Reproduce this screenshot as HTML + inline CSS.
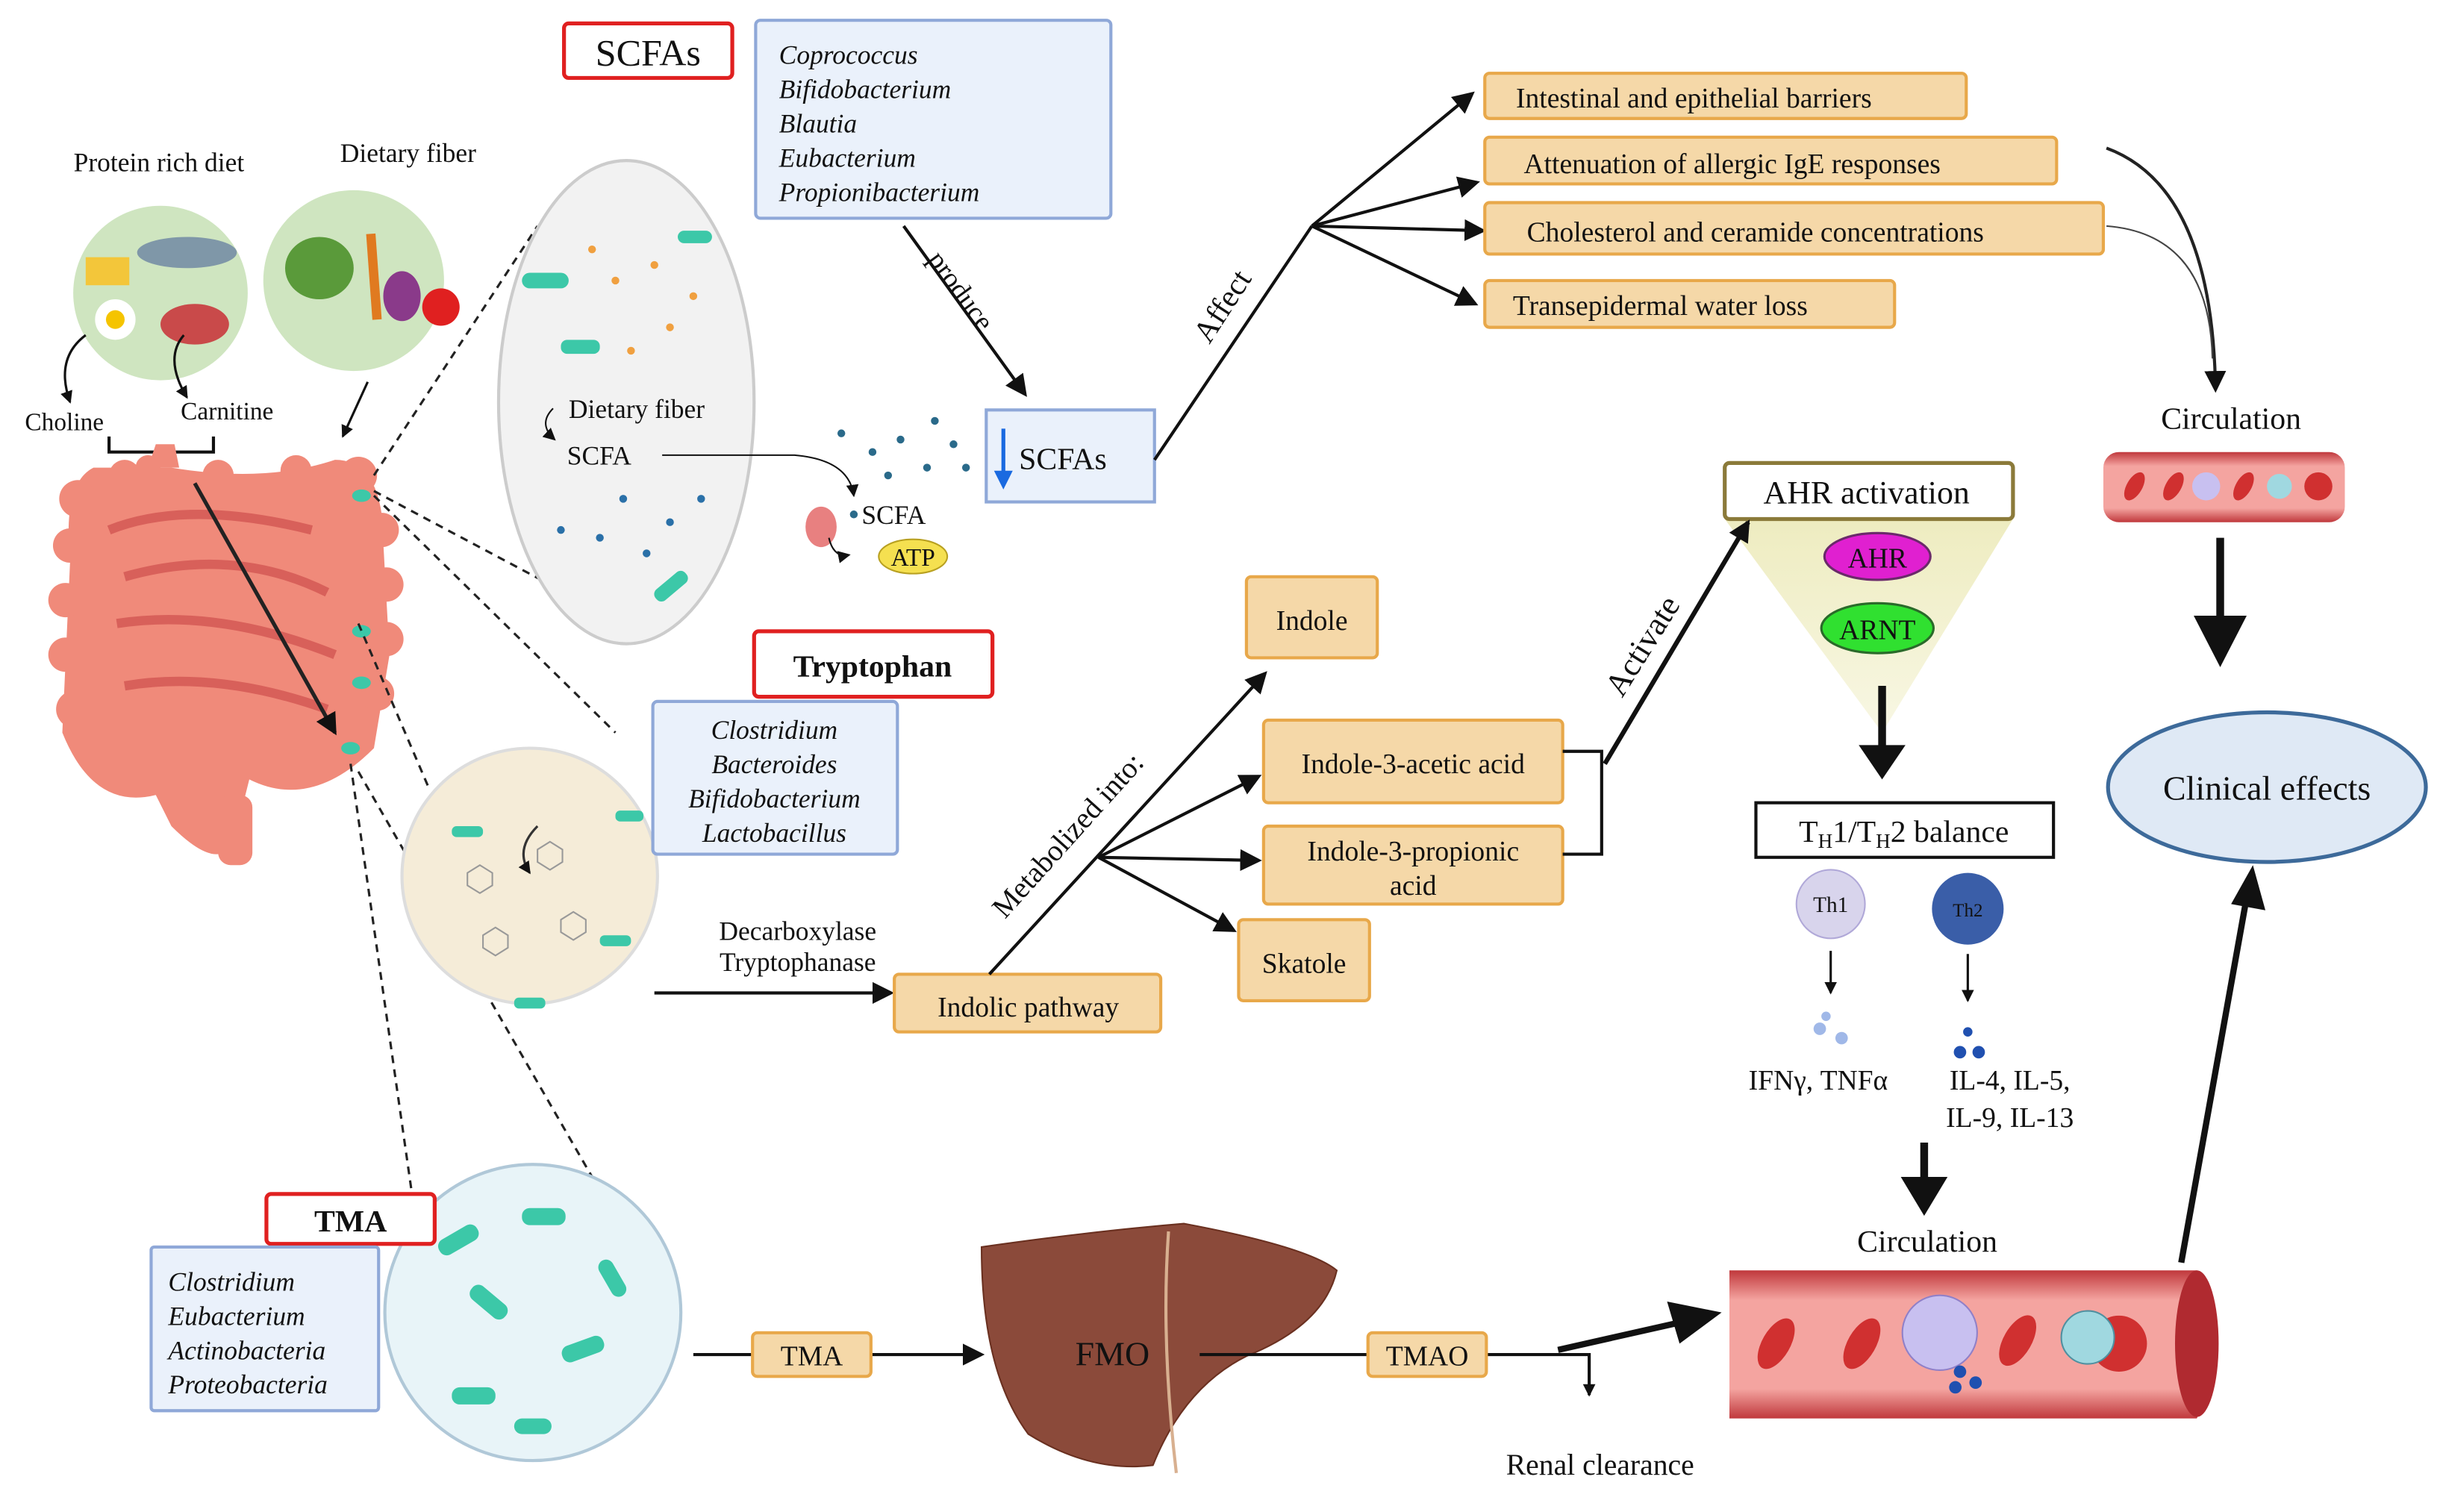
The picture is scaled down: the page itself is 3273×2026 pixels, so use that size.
<!DOCTYPE html>
<html><head><meta charset="utf-8"><style>
html,body{margin:0;padding:0;background:#fff;width:3273px;height:2026px;overflow:hidden}
svg{display:block}
text{font-family:"Liberation Serif",serif;fill:#111}
.it{font-style:italic}
</style></head><body>
<svg width="3273" height="2026" viewBox="0 0 1568 970" preserveAspectRatio="none" xmlns="http://www.w3.org/2000/svg">
<defs>
<marker id="ah" markerWidth="8" markerHeight="8" refX="7" refY="4" orient="auto" markerUnits="userSpaceOnUse"><path d="M0,0 L8,4 L0,8 z" fill="#111"/></marker>
<marker id="ahb" markerWidth="14" markerHeight="14" refX="12" refY="7" orient="auto" markerUnits="userSpaceOnUse"><path d="M0,0 L14,7 L0,14 z" fill="#111"/></marker>
<linearGradient id="tri" x1="0" y1="0" x2="0" y2="1"><stop offset="0" stop-color="#eeecc0"/><stop offset="1" stop-color="#f8f7e4"/></linearGradient>
<linearGradient id="ves" x1="0" y1="0" x2="0" y2="1"><stop offset="0" stop-color="#c0383c"/><stop offset=".2" stop-color="#f4a4a0"/><stop offset=".8" stop-color="#f4a4a0"/><stop offset="1" stop-color="#c0383c"/></linearGradient>
</defs>

<!-- food circles -->
<text x="102" y="110" font-size="17" text-anchor="middle">Protein rich diet</text>
<text x="262" y="104" font-size="17" text-anchor="middle">Dietary fiber</text>
<circle cx="103" cy="188" r="56" fill="#cfe5c0"/>
<circle cx="227" cy="180" r="58" fill="#cfe5c0"/>
<rect x="55" y="165" width="28" height="18" fill="#f3c63a"/>
<ellipse cx="120" cy="162" rx="32" ry="10" fill="#7f97a8"/>
<circle cx="74" cy="205" r="13" fill="#fff"/><circle cx="74" cy="205" r="6" fill="#f5c400"/>
<ellipse cx="125" cy="208" rx="22" ry="13" fill="#c94a4a"/>
<ellipse cx="205" cy="172" rx="22" ry="20" fill="#5a9a3a"/>
<path d="M238 150 L242 205" stroke="#e07a20" stroke-width="6"/>
<ellipse cx="258" cy="190" rx="12" ry="16" fill="#8a3a8a"/>
<circle cx="283" cy="197" r="12" fill="#e02020"/>
<path d="M55 215 Q35 230 45 258" fill="none" stroke="#111" stroke-width="1.5" marker-end="url(#ah)"/>
<path d="M118 215 Q105 230 120 255" fill="none" stroke="#111" stroke-width="1.5" marker-end="url(#ah)"/>
<text x="16" y="276" font-size="16">Choline</text>
<text x="116" y="269" font-size="16">Carnitine</text>
<path d="M70 280 L70 290 L137 290 L137 280" fill="none" stroke="#111" stroke-width="2"/>
<path d="M236 245 L220 280" stroke="#111" stroke-width="1.5" marker-end="url(#ah)"/>

<!-- intestine -->
<path d="M60 300 Q40 310 45 360 L40 470 Q60 520 100 510 L110 530 Q140 560 150 540 L160 500 Q200 520 240 480 L250 420 L245 330 Q240 295 215 295 Q170 310 110 300 Z" fill="#f08a7a"/>
<g fill="#f08a7a"><circle cx="50" cy="320" r="12"/><circle cx="45" cy="350" r="11"/><circle cx="42" cy="385" r="11"/><circle cx="42" cy="420" r="11"/><circle cx="48" cy="455" r="12"/><circle cx="245" cy="340" r="11"/><circle cx="248" cy="375" r="11"/><circle cx="248" cy="410" r="11"/><circle cx="242" cy="445" r="11"/><circle cx="230" cy="305" r="12"/><circle cx="80" cy="305" r="10"/><circle cx="140" cy="305" r="10"/><circle cx="190" cy="302" r="10"/><circle cx="95" cy="300" r="8"/></g>
<path d="M95 300 L100 285 L112 285 L115 300" fill="#f08a7a"/>
<path d="M70 340 Q120 320 200 340 M80 370 Q150 350 210 380 M75 400 Q140 390 215 420 M80 440 Q140 430 210 455" fill="none" stroke="#d8605a" stroke-width="6"/>
<rect x="140" y="510" width="22" height="45" rx="8" fill="#f08a7a"/>
<path d="M125 310 L215 470" stroke="#222" stroke-width="2.5" marker-end="url(#ahb)"/>
<ellipse cx="232" cy="318" rx="6" ry="4" fill="#3cc8a8"/><ellipse cx="232" cy="405" rx="6" ry="4" fill="#3cc8a8"/><ellipse cx="232" cy="438" rx="6" ry="4" fill="#3cc8a8"/><ellipse cx="225" cy="480" rx="6" ry="4" fill="#3cc8a8"/>

<!-- dashed connectors -->
<g stroke="#222" stroke-width="1.5" stroke-dasharray="5,4" fill="none">
<path d="M240 305 L345 145"/><path d="M240 315 L385 392"/>
<path d="M240 318 L395 470"/><path d="M230 400 L275 505"/>
<path d="M225 490 L265 770"/><path d="M230 495 L380 755"/>
</g>

<!-- ellipse 1 -->
<ellipse cx="402" cy="258" rx="82" ry="155" fill="#f2f2f2" stroke="#ccc" stroke-width="2"/>
<g fill="#3cc8a8"><rect x="335" y="175" width="30" height="10" rx="5"/><rect x="360" y="218" width="25" height="9" rx="4"/><rect x="418" y="372" width="25" height="9" rx="4" transform="rotate(-40 430 376)"/><rect x="435" y="148" width="22" height="8" rx="4"/></g>
<g fill="#f0a040"><circle cx="420" cy="170" r="2.5"/><circle cx="395" cy="180" r="2.5"/><circle cx="430" cy="210" r="2.5"/><circle cx="405" cy="225" r="2.5"/><circle cx="445" cy="190" r="2.5"/><circle cx="380" cy="160" r="2.5"/></g>
<g fill="#2a70a8"><circle cx="400" cy="320" r="2.5"/><circle cx="430" cy="335" r="2.5"/><circle cx="415" cy="355" r="2.5"/><circle cx="385" cy="345" r="2.5"/><circle cx="450" cy="320" r="2.5"/><circle cx="360" cy="340" r="2.5"/></g>
<text x="365" y="268" font-size="17">Dietary fiber</text>
<path d="M355 262 Q345 272 356 282" fill="none" stroke="#111" stroke-width="1" marker-end="url(#ah)"/>
<text x="364" y="298" font-size="17">SCFA</text>
<path d="M425 292 L510 292 Q545 295 548 318" fill="none" stroke="#111" stroke-width="1" marker-end="url(#ah)"/>
<g fill="#2a6a8a"><circle cx="540" cy="278" r="2.5"/><circle cx="560" cy="290" r="2.5"/><circle cx="578" cy="282" r="2.5"/><circle cx="595" cy="300" r="2.5"/><circle cx="612" cy="285" r="2.5"/><circle cx="570" cy="305" r="2.5"/><circle cx="600" cy="270" r="2.5"/><circle cx="620" cy="300" r="2.5"/><circle cx="548" cy="330" r="2.5"/></g>
<ellipse cx="527" cy="338" rx="10" ry="13" fill="#e88080"/>
<path d="M532 345 Q535 358 545 356" fill="none" stroke="#111" stroke-width="1" marker-end="url(#ah)"/>
<text x="553" y="336" font-size="17">SCFA</text>
<ellipse cx="586" cy="357" rx="22" ry="11" fill="#f5e050" stroke="#b8a020"/>
<text x="586" y="363" font-size="16" text-anchor="middle">ATP</text>

<!-- SCFAs header -->
<rect x="362" y="15" width="108" height="35" rx="3" fill="#fff" stroke="#e02020" stroke-width="2.5"/>
<text x="416" y="42" font-size="24" text-anchor="middle">SCFAs</text>
<rect x="485" y="13" width="228" height="127" rx="3" fill="#eaf1fb" stroke="#8fa8d8" stroke-width="2"/>
<g font-size="17"><text x="500" y="41" class="it">Coprococcus</text><text x="500" y="63" class="it">Bifidobacterium</text><text x="500" y="85" class="it">Blautia</text><text x="500" y="107" class="it">Eubacterium</text><text x="500" y="129" class="it">Propionibacterium</text></g>
<path d="M580 145 L658 253" stroke="#111" stroke-width="2" marker-end="url(#ahb)"/>
<text x="612" y="190" font-size="18" transform="rotate(54 612 190)" text-anchor="middle">produce</text>
<rect x="633" y="263" width="108" height="59" fill="#eaf1fb" stroke="#8fa8d8" stroke-width="2"/>
<path d="M644 275 L644 308" stroke="#1a6ae0" stroke-width="2.5"/><path d="M638 302 L644 314 L650 302 z" fill="#1a6ae0"/>
<text x="654" y="301" font-size="20">SCFAs</text>
<path d="M741 295 L842 145" stroke="#111" stroke-width="2"/>
<text x="790" y="200" font-size="20" transform="rotate(-57 790 200)" text-anchor="middle">Affect</text>
<g stroke="#111" stroke-width="2"><path d="M842 145 L945 60" marker-end="url(#ahb)"/><path d="M842 145 L948 117" marker-end="url(#ahb)"/><path d="M842 145 L952 148" marker-end="url(#ahb)"/><path d="M842 145 L947 195" marker-end="url(#ahb)"/></g>
<g fill="#f5d8a8" stroke="#e8a84a" stroke-width="2">
<rect x="953" y="47" width="309" height="29" rx="3"/><rect x="953" y="88" width="367" height="30" rx="3"/><rect x="953" y="130" width="397" height="33" rx="3"/><rect x="953" y="180" width="263" height="30" rx="3"/>
</g>
<text x="973" y="69" font-size="18">Intestinal and epithelial barriers</text>
<text x="978" y="111" font-size="18">Attenuation of allergic IgE responses</text>
<text x="980" y="155" font-size="18">Cholesterol and ceramide concentrations</text>
<text x="971" y="202" font-size="18">Transepidermal water loss</text>
<path d="M1352 95 Q1420 120 1422 250" fill="none" stroke="#222" stroke-width="2" marker-end="url(#ahb)"/>
<path d="M1352 145 Q1418 150 1420 230" fill="none" stroke="#444" stroke-width="1"/>

<!-- circulation right -->
<text x="1432" y="275" font-size="20" text-anchor="middle">Circulation</text>
<rect x="1350" y="290" width="155" height="45" rx="10" fill="url(#ves)"/>
<g fill="#d03030"><ellipse cx="1370" cy="312" rx="5" ry="10" transform="rotate(30 1370 312)"/><ellipse cx="1395" cy="312" rx="5" ry="10" transform="rotate(30 1395 312)"/><ellipse cx="1440" cy="312" rx="5" ry="10" transform="rotate(30 1440 312)"/><circle cx="1488" cy="312" r="9"/></g>
<circle cx="1416" cy="312" r="9" fill="#c8c0f0"/><circle cx="1463" cy="312" r="8" fill="#a0d8e0"/>
<path d="M1425 345 L1425 405" stroke="#111" stroke-width="5"/>
<path d="M1408 395 L1425 428 L1442 395 z" fill="#111"/>
<ellipse cx="1455" cy="505" rx="102" ry="48" fill="#dfe9f5" stroke="#3d6a9a" stroke-width="2.5"/>
<text x="1455" y="513" font-size="22" text-anchor="middle">Clinical effects</text>

<!-- AHR -->
<polygon points="1107,333 1292,333 1208,470" fill="url(#tri)"/>
<rect x="1107" y="297" width="185" height="36" rx="3" fill="#fff" stroke="#8b7a3a" stroke-width="2.5"/>
<text x="1198" y="323" font-size="21" text-anchor="middle">AHR activation</text>
<ellipse cx="1205" cy="357" rx="34" ry="15" fill="#e020d0" stroke="#6a2a6a" stroke-width="1.5"/>
<text x="1205" y="364" font-size="18" text-anchor="middle">AHR</text>
<ellipse cx="1205" cy="403" rx="36" ry="16" fill="#30e030" stroke="#2a6a2a" stroke-width="1.5"/>
<text x="1205" y="410" font-size="18" text-anchor="middle">ARNT</text>
<path d="M1208 440 L1208 485" stroke="#111" stroke-width="5"/><path d="M1193 478 L1208 500 L1223 478 z" fill="#111"/>
<rect x="1127" y="515" width="191" height="35" fill="#fff" stroke="#111" stroke-width="2"/>
<text x="1222" y="540" font-size="20" text-anchor="middle">T<tspan font-size="13" dy="4">H</tspan><tspan dy="-4">1/T</tspan><tspan font-size="13" dy="4">H</tspan><tspan dy="-4">2 balance</tspan></text>
<circle cx="1175" cy="580" r="22" fill="#d8d4ec" stroke="#b0a8d8"/><text x="1175" y="585" font-size="14" text-anchor="middle" fill="#fff">Th1</text>
<circle cx="1263" cy="583" r="23" fill="#3a5ea8"/><text x="1263" y="588" font-size="12" text-anchor="middle" fill="#fff">Th2</text>
<path d="M1175 610 L1175 637" stroke="#111" stroke-width="1.5" marker-end="url(#ah)"/>
<path d="M1263 612 L1263 642" stroke="#111" stroke-width="1.5" marker-end="url(#ah)"/>
<g fill="#a0b8e8"><circle cx="1168" cy="660" r="4"/><circle cx="1182" cy="666" r="4"/><circle cx="1172" cy="652" r="3"/></g>
<g fill="#2050b0"><circle cx="1258" cy="675" r="4"/><circle cx="1270" cy="675" r="4"/><circle cx="1263" cy="662" r="3"/></g>
<text x="1167" y="699" font-size="18" text-anchor="middle">IFNγ, TNFα</text>
<text x="1290" y="699" font-size="18" text-anchor="middle">IL-4, IL-5,</text>
<text x="1290" y="723" font-size="18" text-anchor="middle">IL-9, IL-13</text>
<path d="M1235 733 L1235 760" stroke="#111" stroke-width="5"/><path d="M1220 755 L1235 780 L1250 755 z" fill="#111"/>
<text x="1237" y="803" font-size="20" text-anchor="middle">Circulation</text>

<!-- vessel bottom -->
<path d="M1110 815 L1410 815 Q1432 862 1410 910 L1110 910 Z" fill="url(#ves)"/>
<ellipse cx="1410" cy="862" rx="14" ry="47" fill="#b02a30"/>
<g fill="#d03030"><ellipse cx="1140" cy="862" rx="9" ry="18" transform="rotate(30 1140 862)"/><ellipse cx="1195" cy="862" rx="9" ry="18" transform="rotate(30 1195 862)"/><ellipse cx="1295" cy="860" rx="9" ry="18" transform="rotate(30 1295 860)"/><circle cx="1360" cy="862" r="18"/></g>
<circle cx="1245" cy="855" r="24" fill="#c8c0f0" stroke="#9080c8"/>
<circle cx="1340" cy="858" r="17" fill="#a0d8e0" stroke="#5090a0"/>
<g fill="#2050b0"><circle cx="1258" cy="880" r="4"/><circle cx="1268" cy="887" r="4"/><circle cx="1255" cy="890" r="4"/></g>
<path d="M1400 810 L1443 570" stroke="#111" stroke-width="4"/><path d="M1432 580 L1446 555 L1454 584 z" fill="#111"/>

<!-- tryptophan -->
<circle cx="340" cy="562" r="82" fill="#f5ecd8" stroke="#ddd" stroke-width="2"/>
<g fill="#3cc8a8"><rect x="290" y="530" width="20" height="7" rx="3"/><rect x="385" y="600" width="20" height="7" rx="3"/><rect x="330" y="640" width="20" height="7" rx="3"/><rect x="395" y="520" width="18" height="7" rx="3"/></g>
<g stroke="#999" fill="none" stroke-width="1"><path d="M300 560 l8 -5 l8 5 l0 8 l-8 5 l-8 -5 z"/><path d="M345 545 l8 -5 l8 5 l0 8 l-8 5 l-8 -5 z"/><path d="M360 590 l8 -5 l8 5 l0 8 l-8 5 l-8 -5 z"/><path d="M310 600 l8 -5 l8 5 l0 8 l-8 5 l-8 -5 z"/></g>
<path d="M345 530 Q330 545 340 560" fill="none" stroke="#333" stroke-width="1.5" marker-end="url(#ah)"/>
<rect x="484" y="405" width="153" height="42" rx="3" fill="#fff" stroke="#e02020" stroke-width="2.5"/>
<text x="560" y="434" font-size="20" font-weight="bold" text-anchor="middle">Tryptophan</text>
<rect x="419" y="450" width="157" height="98" rx="3" fill="#eaf1fb" stroke="#8fa8d8" stroke-width="2"/>
<g font-size="17" text-anchor="middle"><text x="497" y="474" class="it">Clostridium</text><text x="497" y="496" class="it">Bacteroides</text><text x="497" y="518" class="it">Bifidobacterium</text><text x="497" y="540" class="it">Lactobacillus</text></g>
<text x="512" y="603" font-size="17" text-anchor="middle">Decarboxylase</text>
<text x="512" y="623" font-size="17" text-anchor="middle">Tryptophanase</text>
<path d="M420 637 L572 637" stroke="#111" stroke-width="2" marker-end="url(#ahb)"/>
<g fill="#f5d8a8" stroke="#e8a84a" stroke-width="2">
<rect x="574" y="625" width="171" height="37" rx="3"/><rect x="800" y="370" width="84" height="52" rx="3"/><rect x="811" y="462" width="192" height="53" rx="3"/><rect x="811" y="530" width="192" height="50" rx="3"/><rect x="795" y="590" width="84" height="52" rx="3"/>
</g>
<text x="660" y="652" font-size="18" text-anchor="middle">Indolic pathway</text>
<text x="842" y="404" font-size="18" text-anchor="middle">Indole</text>
<text x="907" y="496" font-size="18" text-anchor="middle">Indole-3-acetic acid</text>
<text x="907" y="552" font-size="18" text-anchor="middle">Indole-3-propionic</text>
<text x="907" y="574" font-size="18" text-anchor="middle">acid</text>
<text x="837" y="624" font-size="18" text-anchor="middle">Skatole</text>
<path d="M635 625 L812 432" stroke="#111" stroke-width="2" marker-end="url(#ahb)"/>
<text x="690" y="540" font-size="19" transform="rotate(-48 690 540)" text-anchor="middle">Metabolized into:</text>
<g stroke="#111" stroke-width="2"><path d="M705 550 L808 498" marker-end="url(#ahb)"/><path d="M705 550 L808 552" marker-end="url(#ahb)"/><path d="M705 550 L792 597" marker-end="url(#ahb)"/></g>
<path d="M1003 482 L1028 482 L1028 548 L1003 548" fill="none" stroke="#111" stroke-width="2"/>
<path d="M1030 490 L1122 335" stroke="#111" stroke-width="3" marker-end="url(#ahb)"/>
<text x="1060" y="418" font-size="21" transform="rotate(-58 1060 418)" text-anchor="middle">Activate</text>

<!-- TMA -->
<circle cx="342" cy="842" r="95" fill="#e8f4f8" stroke="#b0c8d8" stroke-width="2"/>
<g fill="#3cc8a8"><rect x="280" y="790" width="28" height="11" rx="5" transform="rotate(-30 294 795)"/><rect x="335" y="775" width="28" height="11" rx="5"/><rect x="300" y="830" width="28" height="11" rx="5" transform="rotate(40 314 835)"/><rect x="360" y="860" width="28" height="11" rx="5" transform="rotate(-20 374 865)"/><rect x="290" y="890" width="28" height="11" rx="5"/><rect x="380" y="815" width="26" height="10" rx="5" transform="rotate(60 393 820)"/><rect x="330" y="910" width="24" height="10" rx="5"/></g>
<rect x="171" y="766" width="108" height="32" rx="3" fill="#fff" stroke="#e02020" stroke-width="2.5"/>
<text x="225" y="790" font-size="20" font-weight="bold" text-anchor="middle">TMA</text>
<rect x="97" y="800" width="146" height="105" rx="2" fill="#eaf1fb" stroke="#8fa8d8" stroke-width="2"/>
<g font-size="17"><text x="108" y="828" class="it">Clostridium</text><text x="108" y="850" class="it">Eubacterium</text><text x="108" y="872" class="it">Actinobacteria</text><text x="108" y="894" class="it">Proteobacteria</text></g>
<path d="M445 869 L630 869" stroke="#111" stroke-width="2" marker-end="url(#ahb)"/>
<rect x="483" y="855" width="76" height="28" rx="3" fill="#f5d8a8" stroke="#e8a84a" stroke-width="2"/>
<text x="521" y="876" font-size="18" text-anchor="middle">TMA</text>
<path d="M630 800 Q700 790 760 785 Q840 800 858 815 Q850 850 800 870 Q760 890 740 940 Q700 945 660 920 Q630 880 630 800 Z" fill="#8b4a3a" stroke="#6a3020"/>
<path d="M750 790 Q745 860 755 945" fill="none" stroke="#d8b090" stroke-width="2"/>
<text x="714" y="876" font-size="22" text-anchor="middle">FMO</text>
<path d="M770 869 L1020 869 L1020 895" fill="none" stroke="#111" stroke-width="2" marker-end="url(#ah)"/>
<rect x="878" y="855" width="76" height="28" rx="3" fill="#f5d8a8" stroke="#e8a84a" stroke-width="2"/>
<text x="916" y="876" font-size="18" text-anchor="middle">TMAO</text>
<path d="M1000 866 L1080 848" stroke="#111" stroke-width="4"/><path d="M1070 835 L1105 842 L1078 862 z" fill="#111"/>
<text x="1027" y="946" font-size="19" text-anchor="middle">Renal clearance</text>
</svg>
</body></html>
